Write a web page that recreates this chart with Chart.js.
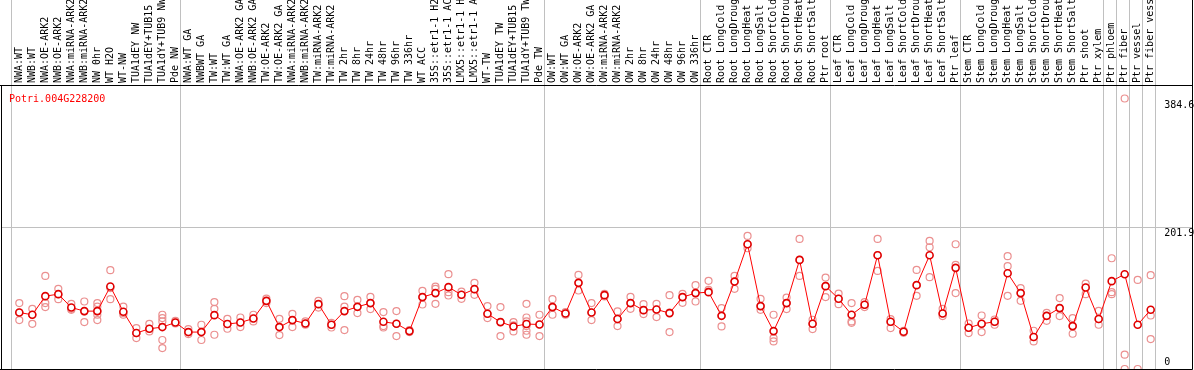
<!DOCTYPE html>
<html>
<head>
<meta charset="utf-8">
<script src="https://cdn.jsdelivr.net/npm/chart.js@4.4.1/dist/chart.umd.min.js"></script>
<style>
  html, body { margin: 0; padding: 0; background: #fff; overflow: hidden; }
  canvas { display: block; }
</style>
</head>
<body>
<canvas id="chart" width="1194" height="370"></canvas>
<script>
// Sample names, in plot order
const categories = [
  'NWA:WT', 'NWB:WT', 'NWA:OE-ARK2', 'NWB:OE-ARK2', 'NWA:miRNA-ARK2', 'NWB:miRNA-ARK2',
  'NW 0hr', 'WT H2O', 'WT-NW', 'TUA1dEY NW', 'TUA1dEY+TUB15 NW', 'TUA1dY+TUB9 NW', 'Pde NW',
  'NWA:WT GA', 'NWBWT GA', 'TW:WT', 'TW:WT GA', 'NWA:OE-ARK2 GA', 'NWB:OE-ARK2 GA',
  'TW:OE-ARK2', 'TW:OE-ARK2 GA', 'NWA:miRNA-ARK2 GA', 'NWB:miRNA-ARK2 GA', 'TW:miRNA-ARK2',
  'TW:miRNA-ARK2 GA', 'TW 2hr', 'TW 8hr', 'TW 24hr', 'TW 48hr', 'TW 96hr', 'TW 336hr',
  'WT ACC', '35S::etr1-1 H2O', '35S::etr1-1 ACC', 'LMX5::etr1-1 H2O', 'LMX5::etr1-1 ACC',
  'WT-TW', 'TUA1dEY TW', 'TUA1dEY+TUB15 TW', 'TUA1dY+TUB9 TW', 'Pde TW',
  'OW:WT', 'OW:WT GA', 'OW:OE-ARK2', 'OW:OE-ARK2 GA', 'OW:miRNA-ARK2', 'OW:miRNA-ARK2 GA',
  'OW 2hr', 'OW 8hr', 'OW 24hr', 'OW 48hr', 'OW 96hr', 'OW 336hr',
  'Root CTR', 'Root LongCold', 'Root LongDrought', 'Root LongHeat', 'Root LongSalt',
  'Root ShortCold', 'Root ShortDrought', 'Root ShortHeat', 'Root ShortSalt', 'Ptr root',
  'Leaf CTR', 'Leaf LongCold', 'Leaf LongDrought', 'Leaf LongHeat', 'Leaf LongSalt',
  'Leaf ShortCold', 'Leaf ShortDrought', 'Leaf ShortHeat', 'Leaf ShortSalt', 'Ptr leaf',
  'Stem CTR', 'Stem LongCold', 'Stem LongDrought', 'Stem LongHeat', 'Stem LongSalt',
  'Stem ShortCold', 'Stem ShortDrought', 'Stem ShortHeat', 'Stem ShortSalt', 'Ptr shoot',
  'Ptr xylem', 'Ptr phloem', 'Ptr fiber', 'Ptr vessel', 'Ptr fiber vessel'
];

// How many samples sit between two grey separators
const groupSizes = [13, 28, 12, 10, 10, 11, 1, 1, 1, 1];

// Mean expression per sample
const means = [
  80.3, 77.1, 103.6, 106.4, 87.4, 82.3, 82.3, 117.2, 81.3, 51.1, 57.2, 59.6, 66.1,
  52.5, 52.5, 76.6, 63.9, 66.1, 71.8, 96.9, 59.6, 69.5, 64.7, 92.2, 62.9, 82.3, 88.4,
  93.7, 67.1, 64.3, 53.9, 102.2, 107.9, 116.4, 105.5, 113.5, 78.5, 66.7, 60.5, 63.9, 63.3,
  88.0, 78.9, 122.5, 80.3, 105.0, 71.0, 93.7, 83.7, 84.6, 79.5, 102.2, 107.9,
  109.3, 75.6, 124.3, 177.4, 89.4, 53.9, 93.7, 155.1, 64.3, 117.8,
  99.8, 77.1, 91.3, 161.8, 67.1, 52.9, 119.2, 161.8, 78.9, 143.8,
  58.6, 64.3, 67.1, 136.2, 107.9, 45.4, 75.6, 86.6, 61.0, 115.8, 71.0,
  124.9, 134.8, 62.9, 84.2
];

// Individual replicates per sample
const replicates = [
  [93.7, 80.3, 69.5], [85.6, 77.1, 64.3], [132.4, 93.7, 88.0], [114.0, 106.4, 99.3],
  [92.7, 85.6, 84.2], [96.0, 81.8, 66.7], [93.7, 88.8, 81.8, 77.1, 69.5], [140.5, 115.0, 99.3],
  [88.8, 79.5, 77.1], [58.2, 51.1, 44.0], [64.3, 57.2, 53.4], [77.1, 72.4, 67.6, 41.2, 29.8],
  [68.5, 66.1, 64.7],
  [56.8, 52.5, 49.7], [62.9, 52.5, 41.2], [95.1, 85.6, 48.7], [71.4, 63.9, 57.2],
  [73.2, 66.1, 59.6], [77.1, 71.8, 67.6], [100.2, 96.9, 93.7], [71.4, 59.6, 48.3],
  [78.5, 69.5, 59.6], [67.6, 64.7, 62.9], [96.9, 92.2, 87.4], [65.7, 62.9, 59.0],
  [103.6, 88.8, 55.4], [98.4, 88.4, 79.5], [102.6, 93.7, 85.2], [80.9, 61.0, 59.0],
  [82.3, 64.3, 46.8], [55.4, 53.9, 52.5], [111.1, 102.2, 91.7], [117.2, 114.0, 92.7],
  [134.8, 109.3, 104.5], [110.1, 105.5, 99.8], [122.5, 113.5, 105.5], [89.4, 78.5, 72.4],
  [88.0, 66.7, 46.8], [66.7, 62.0, 53.4], [92.7, 73.2, 67.6, 61.0, 54.4, 48.7], [77.1, 63.3, 46.8],
  [99.3, 88.0, 77.1], [80.9, 78.9, 77.1], [133.8, 122.5, 111.6], [93.7, 80.3, 69.5],
  [106.9, 105.0, 103.1], [81.8, 71.0, 61.0], [102.6, 93.7, 85.6], [92.2, 83.7, 78.1],
  [92.7, 84.6, 73.8], [105.0, 80.3, 52.5], [106.9, 102.2, 94.1], [119.2, 107.9, 96.0],
  [125.3, 112.5, 110.0], [86.6, 75.6, 60.5], [132.4, 124.3, 114.0], [189.2, 177.4, 171.7],
  [99.8, 89.4, 84.2], [77.1, 44.0, 39.2], [101.6, 93.7, 85.2], [184.9, 155.1, 132.4],
  [70.0, 64.3, 56.8], [130.0, 117.8, 102.2],
  [107.3, 99.8, 92.2], [93.7, 67.6, 65.7], [95.0, 91.3, 88.0], [184.9, 161.8, 139.5],
  [71.0, 67.1, 58.2], [54.4, 52.9, 51.5], [140.9, 119.2, 104.0], [182.1, 173.1, 130.6],
  [85.6, 78.9, 75.2], [177.4, 148.0, 107.9],
  [64.7, 58.6, 51.1], [76.1, 64.3, 52.5], [70.4, 67.1, 62.9], [160.4, 146.2, 104.0],
  [115.0, 107.9, 96.9], [54.4, 45.4, 39.2], [79.9, 75.6, 68.5], [100.8, 86.6, 75.2],
  [72.4, 61.0, 50.1], [121.5, 115.8, 106.4], [82.7, 71.0, 62.9],
  [157.5, 109.3, 106.4], [384.6, 20.3, 0], [126.7, 0], [133.4, 76.1, 42.6]
];

const yTicks = [0, 201.9, 384.6];
const yMax = 403.8;
const geneName = 'Potri.004G228200';

const MONO = '"DejaVu Sans Mono", "Liberation Mono", monospace';

const repPoints = replicates.flatMap((vals, i) => vals.map(v => ({ x: categories[i], y: v })));

// group separators, gene name and the black box
const framePlugin = {
  id: 'frame',
  beforeDatasetsDraw(chart) {
    const { ctx, chartArea, scales: { x, y } } = chart;
    const step = x.getPixelForValue(1) - x.getPixelForValue(0);
    ctx.save();
    ctx.strokeStyle = '#c0c0c0';
    ctx.lineWidth = 1;
    let k = 0;
    const bounds = [0];
    groupSizes.forEach(n => { k += n; bounds.push(k); });
    bounds.forEach(b => {
      const px = Math.round(x.getPixelForValue(b) - 0.64 * step) + 0.5;
      ctx.beginPath();
      ctx.moveTo(px, 0);
      ctx.lineTo(px, chartArea.bottom);
      ctx.stroke();
    });
    const gy = Math.round(y.getPixelForValue(yTicks[1])) + 0.5;
    ctx.beginPath();
    ctx.moveTo(1, gy);
    ctx.lineTo(chart.width - 1, gy);
    ctx.stroke();
    ctx.restore();
  },
  afterDraw(chart) {
    const { ctx, chartArea } = chart;
    const top = chartArea.top + 0.5;
    const bottom = chartArea.bottom + 0.5;
    const right = chart.width - 1.5;
    ctx.save();
    ctx.strokeStyle = '#000';
    ctx.lineWidth = 1;
    ctx.beginPath();
    ctx.moveTo(0, top); ctx.lineTo(right, top);
    ctx.moveTo(0, bottom); ctx.lineTo(right, bottom);
    ctx.moveTo(1.5, top); ctx.lineTo(1.5, bottom);
    ctx.moveTo(right, 0); ctx.lineTo(right, bottom);
    ctx.stroke();
    ctx.fillStyle = '#ff0000';
    ctx.font = '10px ' + MONO;
    ctx.textBaseline = 'alphabetic';
    ctx.fillText(geneName, 9, chartArea.top + 16.5);
    ctx.restore();
  }
};

new Chart(document.getElementById('chart'), {
  type: 'line',
  data: {
    labels: categories,
    datasets: [{
      label: 'mean',
      data: means,
      borderColor: '#ff0000',
      borderWidth: 1,
      tension: 0,
      pointRadius: 3.5,
      pointBorderWidth: 1.6,
      pointBorderColor: '#e00000',
      pointBackgroundColor: '#ffffff',
      order: 0
    }, {
      label: 'replicates',
      data: repPoints,
      showLine: false,
      pointRadius: 3.5,
      pointBorderWidth: 1.2,
      pointBorderColor: '#eb9090',
      pointBackgroundColor: 'rgba(0,0,0,0)',
      order: 1
    }]
  },
  options: {
    responsive: false,
    animation: false,
    devicePixelRatio: 1,
    layout: { autoPadding: false, padding: { left: 12.8, right: 0, top: 0, bottom: 1 } },
    plugins: {
      legend: { display: false },
      tooltip: { enabled: false }
    },
    scales: {
      x: {
        type: 'category',
        position: 'top',
        offset: true,
        grid: { display: false, drawTicks: false },
        border: { display: false },
        ticks: {
          autoSkip: false,
          minRotation: 90,
          maxRotation: 90,
          padding: 2,
          labelOffset: 12,
          color: '#000',
          font: { family: MONO, size: 10 }
        },
        afterFit: s => { s.height = 85; }
      },
      y: {
        position: 'right',
        min: 0,
        max: yMax,
        grid: { display: false, drawTicks: false },
        border: { display: false },
        afterBuildTicks: s => { s.ticks = yTicks.map(v => ({ value: v })); },
        ticks: {
          padding: 7,
          color: '#000',
          font: { family: MONO, size: 10, lineHeight: '13px' },
          callback: v => (v === 0 ? ['0', ''] : ['', String(v)])
        },
        afterFit: s => {
          s.width = 36.8;
          s.paddingTop = 0;
          s.paddingBottom = 0;
        }
      }
    }
  },
  plugins: [framePlugin]
});
</script>
</body>
</html>
